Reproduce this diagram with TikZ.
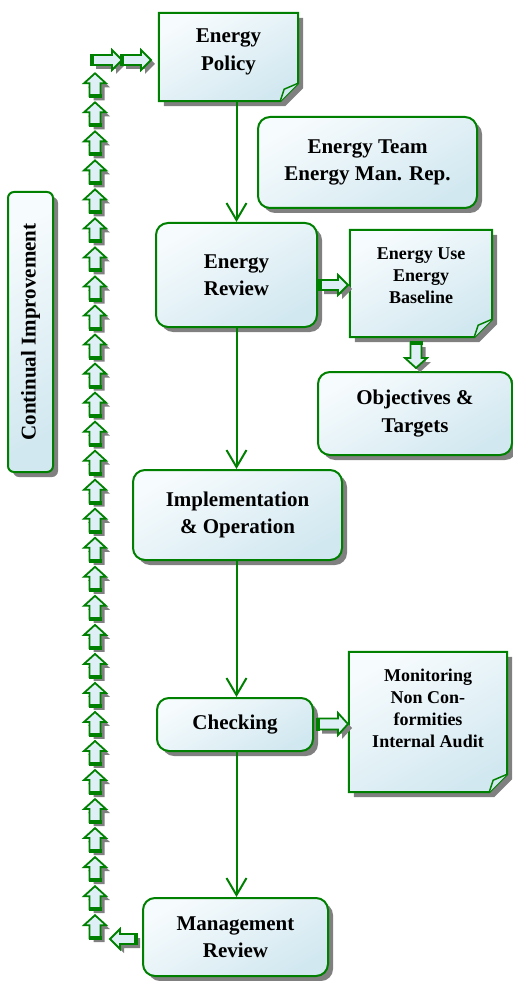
\documentclass[tikz,border=0pt]{standalone}
\usepackage{fontspec}
\setmainfont{Liberation Serif}
\usetikzlibrary{arrows.meta,shadows}
\definecolor{mygreen}{RGB}{0,128,0}
\definecolor{shadowgray}{RGB}{128,128,128}
\definecolor{boxlight}{RGB}{246,251,253}
\definecolor{boxdark}{RGB}{210,232,240}
\definecolor{arrowfill}{RGB}{222,239,245}
\tikzset{
 bigtext/.style={font=\bfseries\fontsize{21}{27.5}\selectfont, align=center, inner sep=0pt},
 smalltext/.style={font=\bfseries\fontsize{18}{22}\selectfont, align=center, inner sep=0pt},
 gradfill/.style={top color=boxlight, bottom color=boxdark, shading angle=30},
 roundbox/.style={draw=mygreen, line width=2pt, rounded corners=12pt, gradfill,
   drop shadow={shadow xshift=5pt, shadow yshift=-5pt, fill=shadowgray, opacity=1},
   inner sep=0pt, bigtext},
 foldbox/.style={inner sep=0pt, draw=none},
 conn/.style={draw=mygreen, line width=2pt, -{Straight Barb[length=17pt,width=20pt]}},
 fatbody/.style={draw=mygreen, line width=1.8pt, fill=arrowfill, line join=miter},
}
\newcommand\foldoutline[1]{%
 \fill[shadowgray] ([shift={(5pt,-5pt)}]#1.north west) -- ([shift={(5pt,-5pt)}]#1.north east)
   -- ([shift={(5pt,13pt)}]#1.south east) -- ([shift={(-13pt,-5pt)}]#1.south east)
   -- ([shift={(5pt,-5pt)}]#1.south west) -- cycle;
 \draw[draw=mygreen, line width=2pt, gradfill] (#1.north west) -- (#1.north east)
   -- ([yshift=18pt]#1.south east) -- ([xshift=-18pt]#1.south east) -- (#1.south west) -- cycle;
 \draw[draw=mygreen, line width=1.5pt, fill=boxdark, line join=round] ([yshift=18pt]#1.south east)
   -- ([shift={(-14pt,12pt)}]#1.south east) -- ([xshift=-18pt]#1.south east);
}
\newcommand\fatarr[5]{%
 \begin{scope}[shift={({#1+4},{-(#2)-4})},rotate=#3]
  \fill[shadowgray] (0,{-#5/2}) -- ({#4-10},{-#5/2}) -- ({#4-10},{-#5}) -- (#4,0)
    -- ({#4-10},#5) -- ({#4-10},{#5/2}) -- (0,{#5/2}) -- cycle;
 \end{scope}
 \begin{scope}[shift={({#1},{-(#2)})},rotate=#3]
  \draw[fatbody] (0,{-#5/2}) -- ({#4-10},{-#5/2}) -- ({#4-10},{-#5}) -- (#4,0)
    -- ({#4-10},#5) -- ({#4-10},{#5/2}) -- (0,{#5/2}) -- cycle;
  \draw[mygreen,line width=4pt] (0,{-#5/2-1}) -- (0,{#5/2+1});
 \end{scope}}
\begin{document}
\begin{tikzpicture}[x=1pt,y=1pt]
\useasboundingbox (0,0) rectangle (513,-981);
% folded boxes
\node[foldbox, minimum width=139pt, minimum height=88pt] (EP) at (228.5,-57) {};
\foldoutline{EP}
\node[bigtext] (EPt) at ([yshift=5pt]EP.center) {Energy\\Policy};
\node[foldbox, minimum width=142pt, minimum height=107pt] (EU) at (421,-283.5) {};
\foldoutline{EU}
\node[smalltext] (EUt) at ([yshift=8pt]EU.center) {Energy Use\\Energy\\Baseline};
\node[foldbox, minimum width=158pt, minimum height=140pt] (MO) at (428,-722) {};
\foldoutline{MO}
\node[smalltext] (MOt) at ([yshift=14pt]MO.center) {Monitoring\\Non Con-\\formities\\Internal Audit};
% rounded boxes
\node[roundbox, minimum width=219pt, minimum height=91pt] (ET) at (367.5,-162.5) {Energy Team\\Energy Man. Rep.};
\node[roundbox, minimum width=161pt, minimum height=104pt] (ER) at (236.5,-275) {Energy\\Review};
\node[roundbox, minimum width=194pt, minimum height=83pt] (OT) at (415,-413.5) {Objectives \&\\Targets};
\node[roundbox, rounded corners=6pt, rotate=90, minimum width=280pt, minimum height=45pt] (CI) at (30.5,-332) {Continual Improvement};
\node[roundbox, minimum width=209pt, minimum height=90pt] (IO) at (237.5,-515) {Implementation\\\& Operation};
\node[roundbox, minimum width=156pt, minimum height=53pt] (CH) at (235,-724.5) {Checking};
\node[roundbox, minimum width=185pt, minimum height=78pt] (MR) at (235.5,-937) {Management\\Review};
% connectors
\draw[conn] (ER.north |- EP.south) -- (ER.north);
\draw[conn] (ER.south) -- (ER.south |- IO.north);
\draw[conn] (IO.south -| ER.south) -- (CH.north -| ER.south);
\draw[conn] (CH.south -| ER.south) -- (MR.north -| ER.south);
% fat arrows
\fatarr{92}{60}{0}{30}{10}
\fatarr{122}{60}{0}{29}{10}
\fatarr{320}{285}{0}{28}{10}
\fatarr{416}{343}{-90}{25}{11}
\fatarr{318}{724}{0}{30}{11}
\fatarr{136}{939}{180}{26}{10}
\foreach \k [evaluate=\k as \yy using 96.3+29.03*\k] in {0,...,29}{
  \fatarr{95}{\yy}{90}{23}{11}
}
\end{tikzpicture}
\end{document}
